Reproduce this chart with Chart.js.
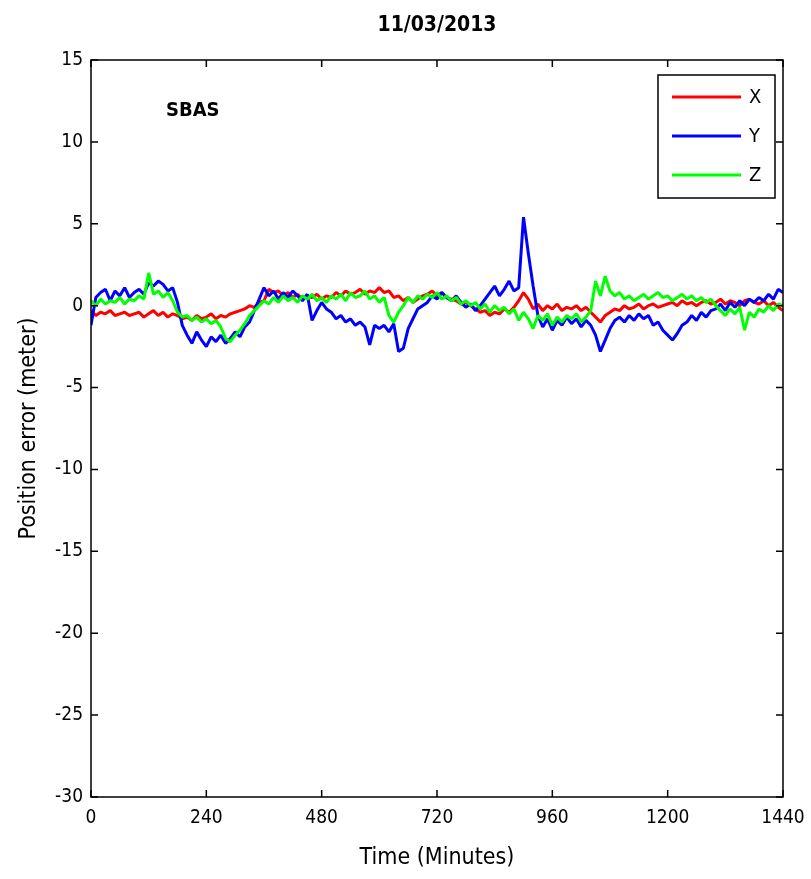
<!DOCTYPE html>
<html>
<head>
<meta charset="utf-8">
<script src="https://cdn.jsdelivr.net/npm/chart.js@4/dist/chart.umd.min.js"></script>
<style>
  html, body { margin: 0; padding: 0; background: #fff; }
  #wrap { width: 811px; height: 879px; }
</style>
</head>
<body>
<div id="wrap"><canvas id="posChart" width="811" height="879"></canvas></div>
<script>
// Position error, sampled every 10 minutes (0 .. 1440)
const stepMinutes = 10;
const xErr = [
  -0.3,-0.6,-0.4,-0.5,-0.3,-0.6,-0.5,-0.4,-0.6,-0.5,
  -0.4,-0.7,-0.5,-0.3,-0.6,-0.4,-0.7,-0.5,-0.6,-0.8,
  -0.7,-0.9,-0.6,-0.8,-0.7,-0.5,-0.8,-0.6,-0.7,-0.5,
  -0.4,-0.3,-0.2,0.0,-0.1,0.2,0.3,1.0,0.8,0.9,
  0.6,0.8,0.5,0.7,0.4,0.6,0.5,0.7,0.4,0.6,
  0.5,0.8,0.6,0.9,0.7,0.8,1.0,0.7,0.9,0.8,
  1.1,0.8,0.9,0.5,0.6,0.3,0.5,0.2,0.4,0.6,
  0.7,0.9,0.6,0.8,0.5,0.4,0.3,0.1,0.2,0.0,
  -0.2,-0.4,-0.3,-0.6,-0.4,-0.5,-0.2,-0.4,-0.1,0.3,
  0.8,0.4,-0.2,0.1,-0.3,0.0,-0.2,0.1,-0.3,-0.1,
  -0.2,0.0,-0.3,-0.1,-0.4,-0.7,-1.0,-0.6,-0.4,-0.2,
  -0.3,0.0,-0.2,-0.1,0.1,-0.2,0.0,0.1,-0.1,0.0,
  0.1,0.2,0.0,0.3,0.1,0.2,0.0,0.2,0.3,0.1,
  0.2,0.4,0.1,0.3,0.2,0.0,0.3,0.4,0.2,0.1,
  0.3,0.0,0.2,-0.1,-0.3
];
const yErr = [
  -1.2,0.5,0.8,1.0,0.3,0.9,0.6,1.1,0.5,0.8,
  1.0,0.7,1.4,1.2,1.5,1.3,0.9,1.1,0.2,-1.2,
  -1.8,-2.3,-1.6,-2.1,-2.5,-1.9,-2.2,-1.8,-2.3,-2.0,
  -1.6,-1.9,-1.3,-1.0,-0.3,0.4,1.1,0.6,0.9,0.4,
  0.8,0.5,0.9,0.6,0.3,0.7,-0.9,-0.3,0.2,-0.2,
  -0.4,-0.8,-0.6,-1.0,-0.8,-1.2,-1.0,-1.3,-2.4,-1.2,
  -1.4,-1.2,-1.6,-1.1,-2.8,-2.6,-1.4,-0.8,-0.2,0.0,
  0.2,0.6,0.4,0.8,0.5,0.3,0.6,0.2,-0.1,0.1,
  -0.3,0.0,0.4,0.8,1.2,0.6,1.0,1.5,0.9,1.1,
  5.4,3.2,1.2,-0.6,-1.3,-0.8,-1.5,-0.9,-1.2,-0.7,
  -1.1,-0.8,-1.3,-0.9,-1.2,-1.8,-2.8,-2.1,-1.4,-0.9,
  -0.7,-1.0,-0.6,-0.9,-0.5,-0.8,-0.6,-1.2,-1.0,-1.5,
  -1.8,-2.1,-1.7,-1.2,-1.0,-0.6,-0.9,-0.4,-0.7,-0.3,
  -0.2,0.1,-0.3,0.2,-0.1,0.3,0.0,0.4,0.2,0.5,
  0.3,0.7,0.4,1.0,0.8
];
const zErr = [
  0.3,0.0,0.4,0.1,0.3,0.2,0.5,0.1,0.4,0.3,
  0.6,0.4,2.0,0.7,0.9,0.5,0.8,0.3,-0.4,-0.7,
  -0.6,-0.9,-0.7,-1.0,-0.8,-1.1,-0.9,-1.3,-2.0,-2.2,
  -1.8,-1.5,-1.1,-0.6,-0.3,0.0,0.3,0.1,0.5,0.2,
  0.6,0.3,0.5,0.2,0.6,0.4,0.7,0.3,0.5,0.2,
  0.6,0.4,0.7,0.3,0.8,0.5,0.6,0.9,0.4,0.6,
  0.2,0.5,-0.6,-1.0,-0.4,0.0,0.5,0.2,0.6,0.4,
  0.7,0.5,0.8,0.4,0.6,0.3,0.5,0.1,0.3,0.0,
  0.2,-0.2,0.1,-0.4,0.0,-0.3,-0.1,-0.5,-0.2,-0.9,
  -0.4,-0.8,-1.4,-0.6,-0.9,-0.5,-1.2,-0.7,-1.0,-0.6,
  -0.8,-0.5,-1.0,-0.7,-0.3,1.5,0.6,1.8,0.9,0.6,
  0.8,0.4,0.6,0.3,0.5,0.7,0.4,0.6,0.8,0.5,
  0.6,0.3,0.5,0.7,0.4,0.6,0.3,0.5,0.2,0.4,
  0.0,-0.3,-0.6,-0.2,-0.5,-0.1,-1.5,-0.4,-0.7,-0.2,
  -0.4,0.0,-0.3,0.1,0.0
];
const minutes = xErr.map((_, i) => i * stepMinutes);
const xTicks = [0, 240, 480, 720, 960, 1200, 1440];
const yTicks = [-30, -25, -20, -15, -10, -5, 0, 5, 10, 15];
const seriesNames = ['X', 'Y', 'Z'];
const seriesColors = ['#ff0000', '#0000ff', '#00ff00'];

const FONT = "'Liberation Sans Narrow', 'DejaVu Sans Condensed', 'Liberation Sans', sans-serif";

const toPoints = arr => arr.map((v, i) => ({ x: minutes[i], y: v }));

// frame, inward ticks, titles and legend drawn on top
const framePlugin = {
    id: 'frame',
    afterDraw(chart) {
        const { ctx, chartArea: a, scales } = chart;
        const sx = scales.x, sy = scales.y;
        ctx.save();
        ctx.strokeStyle = '#000';
        ctx.lineWidth = 1.5;
        ctx.strokeRect(a.left, a.top, a.right - a.left, a.bottom - a.top);

        const tl = 7;
        ctx.beginPath();
        xTicks.forEach(v => {
            const px = sx.getPixelForValue(v);
            ctx.moveTo(px, a.bottom); ctx.lineTo(px, a.bottom - tl);
            ctx.moveTo(px, a.top); ctx.lineTo(px, a.top + tl);
        });
        yTicks.forEach(v => {
            const py = sy.getPixelForValue(v);
            ctx.moveTo(a.left, py); ctx.lineTo(a.left + tl, py);
            ctx.moveTo(a.right, py); ctx.lineTo(a.right - tl, py);
        });
        ctx.stroke();

        ctx.fillStyle = '#000';
        // title
        ctx.font = 'bold 21px ' + FONT;
        ctx.textAlign = 'center';
        ctx.textBaseline = 'middle';
        ctx.fillText('11/03/2013', (a.left + a.right) / 2, 26);

        // annotation
        ctx.font = 'bold 20px ' + FONT;
        ctx.textAlign = 'left';
        ctx.fillText('SBAS', 166, 111);

        // axis titles
        ctx.font = '23px ' + FONT;
        ctx.textAlign = 'center';
        ctx.fillText('Time (Minutes)', (a.left + a.right) / 2, 858);
        ctx.save();
        ctx.translate(29, (a.top + a.bottom) / 2);
        ctx.rotate(-Math.PI / 2);
        ctx.fillText('Position error (meter)', 0, 0);
        ctx.restore();

        // legend
        const lx = 658, ly = 75, lw = 117, lh = 123;
        ctx.fillStyle = '#fff';
        ctx.fillRect(lx, ly, lw, lh);
        ctx.lineWidth = 1.5;
        ctx.strokeRect(lx, ly, lw, lh);
        ctx.font = '20px ' + FONT;
        ctx.textAlign = 'left';
        seriesNames.forEach((name, i) => {
            const yy = 97 + i * 39;
            ctx.strokeStyle = seriesColors[i];
            ctx.lineWidth = 3;
            ctx.beginPath();
            ctx.moveTo(672, yy); ctx.lineTo(741, yy);
            ctx.stroke();
            ctx.fillStyle = '#000';
            ctx.fillText(name, 749, yy + 1);
        });
        ctx.restore();
    }
};

const ctxEl = document.getElementById('posChart');
new Chart(ctxEl, {
    type: 'line',
    data: {
        datasets: [xErr, yErr, zErr].map((arr, i) => ({
            label: seriesNames[i],
            data: toPoints(arr),
            borderColor: seriesColors[i],
            borderWidth: 3,
            borderJoinStyle: 'bevel',
            pointRadius: 0,
            tension: 0,
            order: 2 - i
        }))
    },
    options: {
        responsive: false,
        animation: false,
        layout: { padding: { top: 60, right: 28, left: 0, bottom: 0 } },
        plugins: {
            legend: { display: false },
            title: { display: false },
            tooltip: { enabled: false }
        },
        scales: {
            x: {
                type: 'linear',
                min: 0,
                max: 1440,
                afterFit: s => { s.height = 82; s.paddingLeft = 0; s.paddingRight = 0; },
                afterBuildTicks: s => { s.ticks = xTicks.map(v => ({ value: v })); },
                grid: { display: false, drawTicks: false },
                border: { display: false },
                ticks: {
                    color: '#000',
                    padding: 10,
                    font: { family: FONT, size: 19 },
                    callback: v => String(v)
                }
            },
            y: {
                min: -30,
                max: 15,
                afterFit: s => { s.width = 91; s.paddingTop = 0; s.paddingBottom = 0; },
                afterBuildTicks: s => { s.ticks = yTicks.map(v => ({ value: v })); },
                grid: { display: false, drawTicks: false },
                border: { display: false },
                ticks: {
                    color: '#000',
                    padding: 8,
                    font: { family: FONT, size: 19 },
                    callback: v => String(v)
                }
            }
        }
    },
    plugins: [framePlugin]
});
</script>
</body>
</html>
